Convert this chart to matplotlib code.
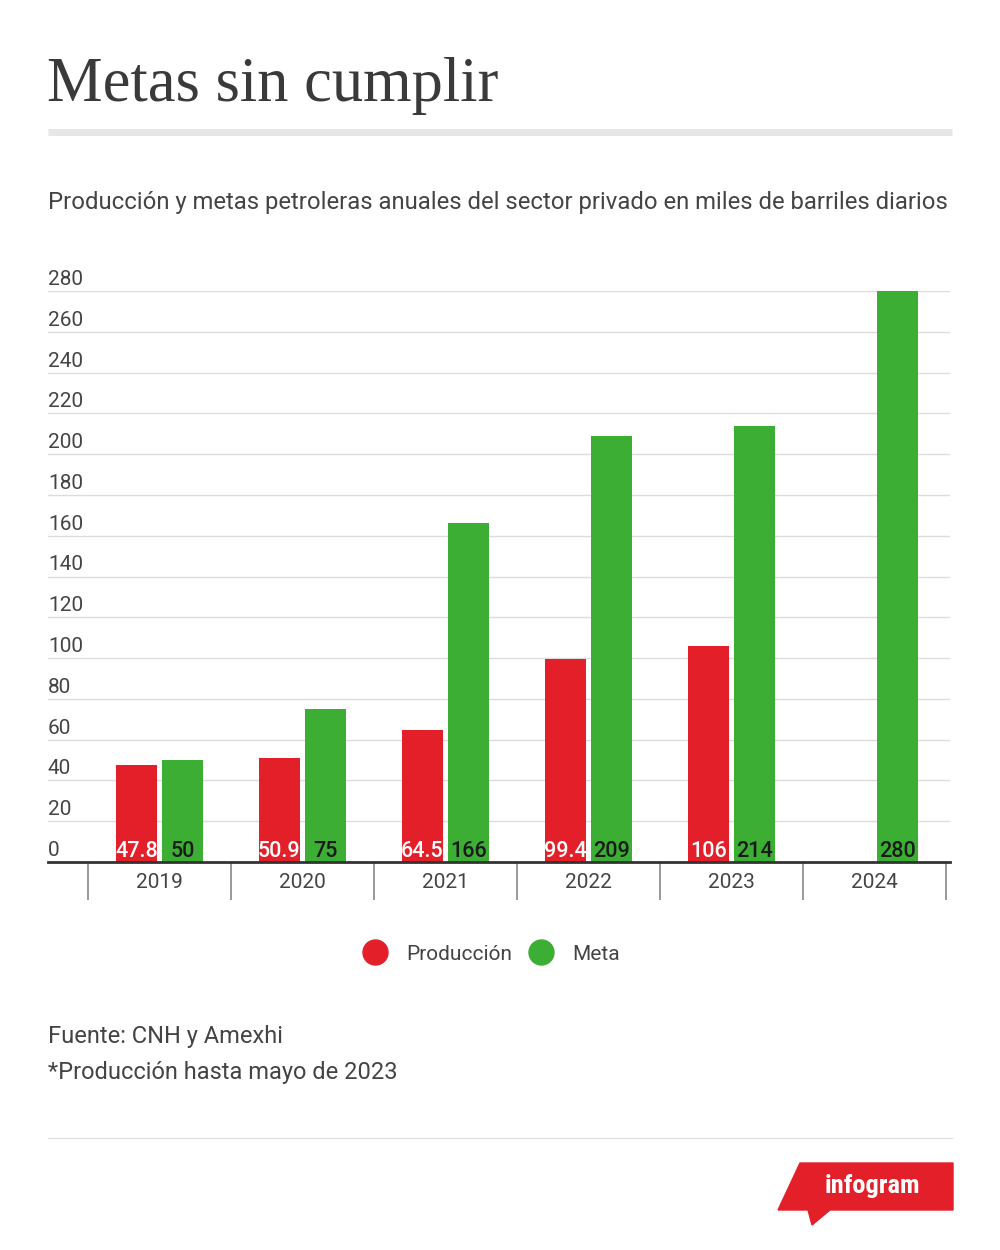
import matplotlib.pyplot as plt
from matplotlib.lines import Line2D
from matplotlib.patches import Polygon

# --- Data --------------------------------------------------------------------
years = ["2019", "2020", "2021", "2022", "2023", "2024"]
produccion = [47.8, 50.9, 64.5, 99.4, 106, None]
meta = [50, 75, 166, 209, 214, 280]
prod_labels = ["47.8", "50.9", "64.5", "99.4", "106", ""]
meta_labels = ["50", "75", "166", "209", "214", "280"]
y_ticks = list(range(0, 281, 20))

RED = "#e3202a"
GREEN = "#3cae33"
TEXT = "#444444"

plt.rcParams["font.family"] = ["Roboto", "DejaVu Sans"]

W, H = 1000, 1250
fig = plt.figure(figsize=(W / 100, H / 100), dpi=100)
fig.patch.set_facecolor("white")


def fx(px):
    return px / W


def fy(py):
    return 1 - py / H


# --- Header ------------------------------------------------------------------
fig.text(fx(47), fy(86), "Metas sin cumplir", family=["Liberation Serif", "DejaVu Serif"],
         fontsize=45, color="#3a3a3a", va="center", ha="left")
fig.add_artist(Line2D([fx(48), fx(952)], [fy(132), fy(132)], color="#e6e6e6", lw=5,
                      solid_capstyle="butt"))
fig.text(fx(48), fy(202),
         "Producción y metas petroleras anuales del sector privado en miles de barriles diarios",
         fontsize=17.2, color=TEXT, va="center", ha="left")

# --- Chart -------------------------------------------------------------------
ax_left, ax_right, ax_base, ax_top = 48, 950, 862, 291
ax = fig.add_axes([fx(ax_left), fy(ax_base), fx(ax_right - ax_left), (ax_base - ax_top) / H])
cat_w = 143.0
x0 = (ax_left - 88) / cat_w - 0.5
x1 = (ax_right - 88) / cat_w - 0.5
ax.set_xlim(x0, x1)
ax.set_ylim(0, 280)
ax.axis("off")
px = 280 / (ax_base - ax_top)  # data units per pixel

for t in y_ticks[1:]:
    ax.axhline(t, color="#dcdcdc", lw=1, zorder=0)
for t in y_ticks:
    ax.text(x0, t + 6 * px, str(t), fontsize=15, color=TEXT, ha="left", va="baseline")

bw = 0.29
off = 0.162
for i, (p, m) in enumerate(zip(produccion, meta)):
    if p is not None:
        ax.bar(i - off, p, bw, color=RED, zorder=2)
        ax.text(i - off, 5 * px, prod_labels[i], color="white", fontsize=15.5,
                weight="medium", ha="center", va="baseline", zorder=3)
    ax.bar(i + off, m, bw, color=GREEN, zorder=2)
    ax.text(i + off, 5 * px, meta_labels[i], color="#1a1a1a", fontsize=15.5,
            weight="medium", ha="center", va="baseline", zorder=3)

ax.axhline(0, color="#333333", lw=2, zorder=4, clip_on=False)
ax.vlines([i - 0.5 for i in range(len(years) + 1)], -38 * px, 0, color="#888888",
          lw=1.2, clip_on=False)
for i, y in enumerate(years):
    ax.text(i, -20 * px, y, fontsize=15, color=TEXT, ha="center", va="center")

# --- Legend ------------------------------------------------------------------
handles = [
    Line2D([], [], marker="o", ls="", color=RED, markersize=18, label="Producción"),
    Line2D([], [], marker="o", ls="", color=GREEN, markersize=18, label="Meta"),
]
leg = fig.legend(handles=handles, loc="center", bbox_to_anchor=(fx(491), fy(954)), ncol=2,
                 frameon=False, fontsize=15, handletextpad=0.9, columnspacing=0.8,
                 handlelength=1.2, borderpad=0, borderaxespad=0)
for t in leg.get_texts():
    t.set_color(TEXT)

# --- Footer ------------------------------------------------------------------
fig.text(fx(48), fy(1036), "Fuente: CNH y Amexhi", fontsize=17, color=TEXT, va="center")
fig.text(fx(48), fy(1072), "*Producción hasta mayo de 2023", fontsize=17, color=TEXT, va="center")
fig.add_artist(Line2D([fx(48), fx(952)], [fy(1138), fy(1138)], color="#e3e3e3", lw=1))

logo = [(800, 1163), (953, 1163), (953, 1210), (830, 1210), (812, 1225), (808, 1210), (778, 1210)]
fig.add_artist(Polygon([(fx(a), fy(b)) for a, b in logo], closed=True, color=RED,
                       transform=fig.transFigure))
fig.text(fx(872), fy(1186), "infogram", color="white", fontsize=19, weight="bold",
         family=["Roboto Condensed", "Roboto", "DejaVu Sans"], ha="center", va="center",
         fontstretch="condensed")

fig.savefig("out.png", dpi=100)
